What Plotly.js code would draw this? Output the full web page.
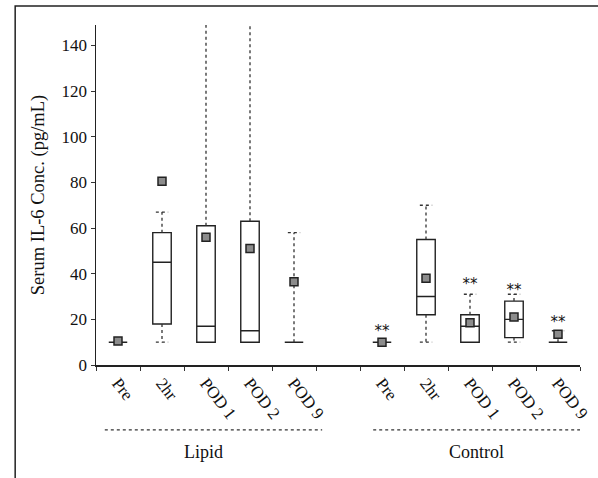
<!DOCTYPE html>
<html>
<head>
<meta charset="utf-8">
<script src="https://cdn.plot.ly/plotly-3.0.1.min.js"></script>
<style>html,body{margin:0;padding:0;background:#fff;}#chart{width:598px;height:478px;}</style>
</head>
<body>
<div id="chart"></div>
<script>
// Category positions (Lipid 0-4, gap at 5, Control 6-10)
const positions = [0, 1, 2, 3, 4, 6, 7, 8, 9, 10];
const tickLabels = ['Pre', '2hr', 'POD 1', 'POD 2', 'POD 9', 'Pre', '2hr', 'POD 1', 'POD 2', 'POD 9'];
const groupNames = ['Lipid', 'Control'];

// Box statistics (pg/mL)
const q1      = [10, 18, 10, 10, 10, 10, 22, 10, 12, 10];
const median  = [10, 45, 17, 15, 10, 10, 30, 17, 20, 10];
const q3      = [10, 58, 61, 63, 10, 10, 55, 22, 28, 10];
const whiskLo = [10, 10, 10, 10, 10, 10, 10, 10, 10, 10];
const whiskHi = [10, 67, 200, 150, 58, 10, 70, 31, 31, 15];
const means   = [10.5, 80.5, 56, 51, 36.5, 10, 38, 18.5, 21, 13.5];

// Significance markers (Control group)
const starPos = [6, 8, 9, 10];
const starY   = [14.5, 35, 32.5, 18.5];
const starText = ['**', '**', '**', '**'];

const serif = 'Liberation Serif, Times New Roman, serif';
const capHalf = 0.14;

// whisker segments (dotted)
const wx = [], wy = [];
positions.forEach((p, i) => {
  if (whiskHi[i] > q3[i]) {
    wx.push(p, p, null, p - capHalf, p + capHalf, null);
    wy.push(q3[i], whiskHi[i], null, whiskHi[i], whiskHi[i], null);
  }
  if (whiskLo[i] < q1[i]) {
    wx.push(p, p, null, p - capHalf, p + capHalf, null);
    wy.push(q1[i], whiskLo[i], null, whiskLo[i], whiskLo[i], null);
  }
});

const traces = [
  {
    type: 'scatter', mode: 'lines', x: wx, y: wy,
    line: {color: '#333', width: 1.3, dash: 'dot'},
    hoverinfo: 'skip', showlegend: false
  },
  {
    type: 'box', x: positions, q1: q1, median: median, q3: q3,
    lowerfence: q1, upperfence: q3,
    width: 0.42, whiskerwidth: 0,
    fillcolor: 'rgba(255,255,255,0)', line: {color: '#222', width: 1.4},
    boxpoints: false, showlegend: false
  },
  {
    type: 'scatter', mode: 'markers', x: positions, y: means,
    marker: {symbol: 'square', size: 8, color: '#8c8c8c', line: {color: '#222', width: 1.5}},
    showlegend: false
  },
  {
    type: 'scatter', mode: 'text', x: starPos, y: starY, text: starText,
    textposition: 'middle center',
    textfont: {family: 'DejaVu Sans, sans-serif', size: 15, color: '#111'},
    showlegend: false, hoverinfo: 'skip'
  }
];

const minorTicks = [];
for (let v = -0.5; v <= 10.5; v += 1) minorTicks.push(v);

const layout = {
  width: 598, height: 478,
  margin: {l: 96, r: 18, t: 25, b: 113},
  paper_bgcolor: '#fff', plot_bgcolor: '#fff',
  font: {family: serif, color: '#111', size: 17},
  showlegend: false,
  xaxis: {
    range: [-0.5, 10.5], showgrid: false, zeroline: false,
    showline: true, linecolor: '#222', linewidth: 1.5,
    tickmode: 'array', tickvals: positions, ticktext: tickLabels,
    tickangle: 52, ticks: '', ticklen: 0,
    tickfont: {family: serif, size: 17, color: '#111'},
    minor: {tickmode: 'array', tickvals: minorTicks, ticks: 'outside', ticklen: 4, tickcolor: '#333', tickwidth: 1}
  },
  yaxis: {
    range: [0, 149], showgrid: false, zeroline: false,
    showline: true, linecolor: '#222', linewidth: 1.5,
    tickmode: 'array', tickvals: [0, 20, 40, 60, 80, 100, 120, 140],
    ticks: 'outside', ticklen: 4, tickcolor: '#333',
    tickfont: {family: serif, size: 17, color: '#111'},
    title: {text: 'Serum IL-6 Conc. (pg/mL)', font: {family: serif, size: 18.5, color: '#111'}, standoff: 12}
  },
  shapes: [
    {type: 'line', xref: 'x', yref: 'paper', x0: -0.3, x1: 4.64, y0: -0.191, y1: -0.191,
     line: {color: '#333', width: 1.3, dash: 'dot'}},
    {type: 'line', xref: 'x', yref: 'paper', x0: 5.8, x1: 10.55, y0: -0.191, y1: -0.191,
     line: {color: '#333', width: 1.3, dash: 'dot'}},
    {type: 'rect', xref: 'paper', yref: 'paper', x0: -0.167, x1: 1.1, y0: -0.4, y1: 1.056,
     line: {color: '#222', width: 1.5}}
  ],
  annotations: [
    {xref: 'x', yref: 'paper', x: 1.95, y: -0.256, xanchor: 'center', yanchor: 'middle',
     text: groupNames[0], showarrow: false, font: {family: serif, size: 18, color: '#111'}},
    {xref: 'x', yref: 'paper', x: 8.14, y: -0.256, xanchor: 'center', yanchor: 'middle',
     text: groupNames[1], showarrow: false, font: {family: serif, size: 18, color: '#111'}}
  ]
};

Plotly.newPlot('chart', traces, layout, {displayModeBar: false, staticPlot: true});
</script>
</body>
</html>
